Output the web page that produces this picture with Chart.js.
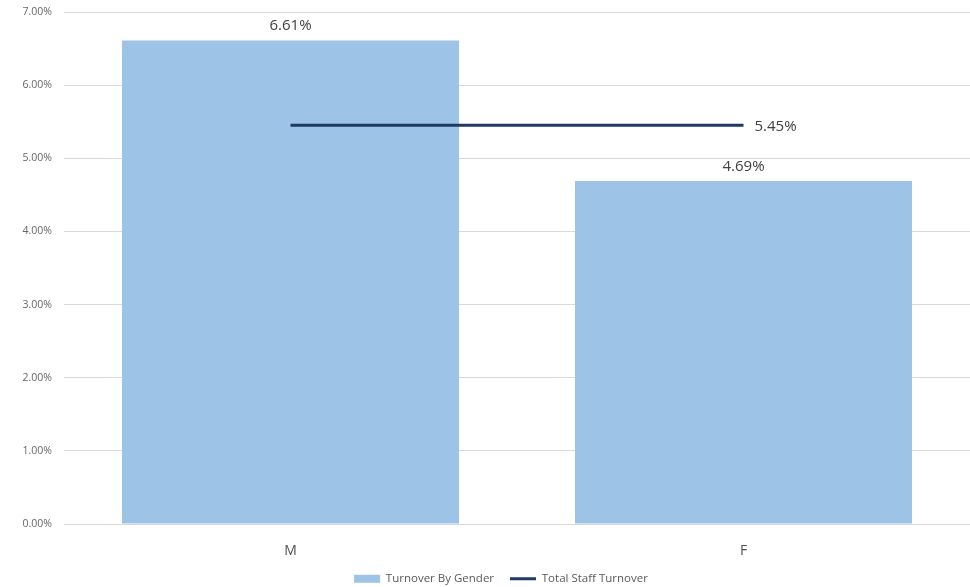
<!DOCTYPE html>
<html>
<head>
<meta charset="utf-8">
<script src="https://cdn.jsdelivr.net/npm/chart.js@4"></script>
<style>
  html, body { margin: 0; padding: 0; background: #fff; }
  #wrap { width: 970px; height: 587px; }
</style>
</head>
<body>
<div id="wrap"><canvas id="turnover-chart" width="970" height="587"></canvas></div>
<script>
const categories = ["M", "F"];
const genderTurnover = [6.61, 4.69];
const totalTurnover = [5.45, 5.45];
const yTicks = [0, 1, 2, 3, 4, 5, 6, 7];

const fmt = (v) => v.toFixed(2) + "%";

// labels above bars and at the end of the line
const valueLabels = {
  id: "valueLabels",
  afterDatasetsDraw(chart) {
    const ctx = chart.ctx;
    ctx.save();
    ctx.font = "15px 'Open Sans', sans-serif";
    ctx.fillStyle = "#404040";
    const bars = chart.getDatasetMeta(0).data;
    ctx.textAlign = "center";
    ctx.textBaseline = "bottom";
    bars.forEach((bar, i) => {
      ctx.fillText(fmt(genderTurnover[i]), bar.x, bar.y - 7);
    });
    const pts = chart.getDatasetMeta(1).data;
    const last = pts[pts.length - 1];
    ctx.textAlign = "left";
    ctx.textBaseline = "middle";
    ctx.fillText(fmt(totalTurnover[totalTurnover.length - 1]), last.x + 11, last.y + 1);
    ctx.restore();
  }
};

// legend sits a little right of centre in the original
const legendShift = {
  id: "legendShift",
  afterLayout(chart) {
    chart.legend.left += 16;
    chart.legend.right += 16;
  }
};

new Chart("turnover-chart", {
  type: "bar",
  data: {
    labels: categories,
    datasets: [
      {
        type: "bar",
        label: "Turnover By Gender",
        data: genderTurnover,
        backgroundColor: "#9DC3E6",
        borderWidth: 0,
        categoryPercentage: 0.744,
        barPercentage: 1,
        order: 2,
      },
      {
        type: "line",
        label: "Total Staff Turnover",
        data: totalTurnover,
        borderColor: "#1F3864",
        backgroundColor: "#1F3864",
        borderWidth: 3,
        pointRadius: 0,
        fill: false,
        order: 1,
      },
    ]
  },
  options: {
    animation: false,
    responsive: false,
    layout: {
      padding: { top: 12, right: 0, left: 0, bottom: -7.5 }
    },
    scales: {
      y: {
        min: 0,
        max: 7,
        afterBuildTicks: (axis) => { axis.ticks = yTicks.map(v => ({ value: v })); },
        afterFit: (axis) => {
          axis.width = 64;
          axis.paddingTop = 0;
          axis.paddingBottom = 0;
        },
        ticks: {
          callback: (v) => fmt(v),
          font: { size: 10.5, family: "'Open Sans', sans-serif" },
          color: "#666666",
          padding: 12,
        },
        grid: { color: "#D9D9D9", drawTicks: false },
        border: { display: false },
      },
      x: {
        afterFit: (axis) => { axis.height = 33; },
        ticks: {
          font: { size: 14, family: "'Open Sans', sans-serif", lineHeight: 1 },
          color: "#505050",
          padding: 20,
        },
        grid: { display: false, drawTicks: false },
        border: { color: "#D9D9D9" },
      }
    },
    plugins: {
      legend: {
        position: "bottom",
        labels: {
          font: { size: 11.5, family: "'Open Sans', sans-serif" },
          color: "#595959",
          usePointStyle: true,
          pointStyleWidth: 26,
          boxHeight: 8,
          padding: 16,
          generateLabels: (chart) => chart.data.datasets.map((ds, i) => ({
            text: ds.label,
            fillStyle: ds.backgroundColor,
            strokeStyle: ds.backgroundColor,
            lineWidth: i === 1 ? 3 : 0,
            pointStyle: i === 1 ? "line" : "rect",
            fontColor: "#595959",
            datasetIndex: i,
          })),
        }
      },
      tooltip: { enabled: false },
    }
  },
  plugins: [valueLabels, legendShift]
});
</script>
</body>
</html>
